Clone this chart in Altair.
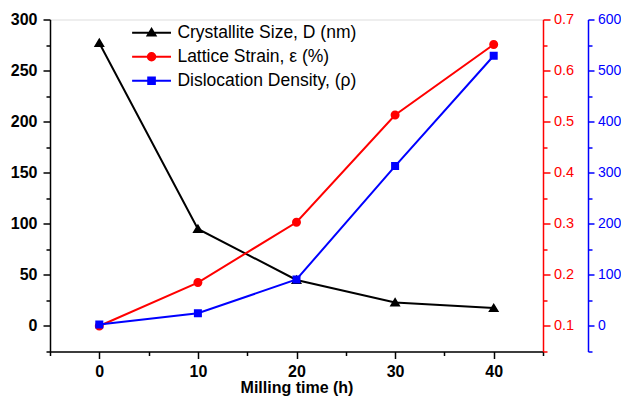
import altair as alt
import pandas as pd

# ---- data ----
time_h = [0, 10, 20, 30, 40]
crystallite_nm = [277, 95, 45, 23, 17.5]
strain_pct = [0.100, 0.185, 0.303, 0.513, 0.651]
dislocation = [3, 25, 91, 313, 529]

series_names = ["Crystallite Size, D (nm)", "Lattice Strain, ε (%)", "Dislocation Density, (ρ)"]
series_colors = ["#000000", "#ff0000", "#0000ff"]
# custom symbols: horizontal line (legend only, invisible when filled) + marker
series_shapes = [
    "M-4.4,0H4.4M-0.9,0.65L0,-0.85L0.9,0.65Z",
    "M-4.4,0H4.4M-0.85,0A0.85,0.85,0,1,1,0.85,0A0.85,0.85,0,1,1,-0.85,0Z",
    "M-4.4,0H4.4M-0.75,-0.75H0.75V0.75H-0.75Z",
]
marker_sizes = [150, 112, 114]

left_ticks = list(range(-25, 301, 25))
red_ticks = [round(0.05 * i, 2) for i in range(1, 15)]
blue_ticks = list(range(-50, 601, 50))
x_ticks = list(range(-5, 46, 5))

FONT = "Liberation Sans"

legend = alt.Legend(
    title=None, orient="none", legendX=92.8, legendY=4.5, padding=0,
    symbolSize=78, symbolStrokeWidth=2, labelOffset=17.1, rowPadding=5,
    labelFont=FONT, labelFontSize=17.5, labelColor="black", labelLimit=0,
)
color_enc = alt.Color("series:N", scale=alt.Scale(domain=series_names, range=series_colors), legend=legend)
shape_enc = alt.Shape("series:N", scale=alt.Scale(domain=series_names, range=series_shapes), legend=legend)

x_axis = alt.Axis(
    values=x_ticks, labelExpr="datum.value % 10 == 0 ? datum.label : ''",
    tickSize={"condition": {"test": "datum.value % 10 == 0", "value": 7}, "value": 4},
    grid=False, labelFont=FONT, labelFontSize=16, labelFontWeight="bold", labelColor="black",
    titleFont=FONT, titleFontSize=16, titleFontWeight="bold", titleColor="black",
    domainColor="black", tickColor="black", domainWidth=1.5, tickWidth=1.5,
    labelPadding=5, titlePadding=-0.5, labelFlush=False, labelOverlap=False,
)
x_enc = alt.X("time:Q", title="Milling time (h)",
              scale=alt.Scale(domain=[-5, 45], nice=False, zero=False), axis=x_axis)


def make_axis(orient, values, expr_label, expr_test, color, bold, size, offset=0, pad=4, tick=7):
    return alt.Axis(
        orient=orient, values=values, labelExpr=expr_label,
        tickSize={"condition": {"test": expr_test, "value": tick}, "value": 4},
        grid=False, labelFont=FONT, labelFontSize=size,
        labelFontWeight="bold" if bold else "normal", labelColor=color,
        domainColor=color, tickColor=color, domainWidth=1.5, tickWidth=1.5,
        labelPadding=pad, labelFlush=False, labelOverlap=False, offset=offset, title=None,
    )


left_axis = make_axis("left", left_ticks, "datum.value % 50 == 0 ? datum.label : ''",
                      "datum.value % 50 == 0", "black", True, 16, pad=6)
red_test = "abs(datum.value*10 - round(datum.value*10)) < 0.000001"
red_axis = make_axis("right", red_ticks, f"{red_test} ? format(datum.value, '.1f') : ''",
                     red_test, "#ff0000", False, 14.5, pad=3.5)
blue_axis = make_axis("right", blue_ticks, "datum.value % 100 == 0 ? datum.label : ''",
                      "datum.value % 100 == 0", "#0000ff", False, 14, offset=45, pad=3.5, tick=6)


def series_layer(values, idx, domain, axis):
    df = pd.DataFrame({"time": time_h, "val": values, "series": series_names[idx]})
    y_enc = alt.Y("val:Q", title=None, scale=alt.Scale(domain=domain, nice=False, zero=False), axis=axis)
    base = alt.Chart(df).encode(x=x_enc, y=y_enc, color=color_enc)
    line = base.mark_line(strokeWidth=2)
    pts = base.mark_point(filled=True, size=marker_sizes[idx], opacity=1).encode(shape=shape_enc)
    return alt.layer(line, pts)


l1 = series_layer(crystallite_nm, 0, [-25, 300], left_axis)
l2 = series_layer(strain_pct, 1, [0.05, 0.7], red_axis)
l3 = series_layer(dislocation, 2, [-50, 600], blue_axis)

chart = (
    alt.layer(l1, l2, l3)
    .resolve_scale(y="independent")
    .properties(
        width=493, height=332,
        autosize=alt.AutoSizeParams(type="none"),
        padding={"left": 42, "top": 11.5, "right": 78, "bottom": 45},
    )
    .configure_view(stroke="black", strokeWidth=1.5)
    .configure(background="white")
)

chart.save("out.html", embed_options={"renderer": "svg", "actions": False})
